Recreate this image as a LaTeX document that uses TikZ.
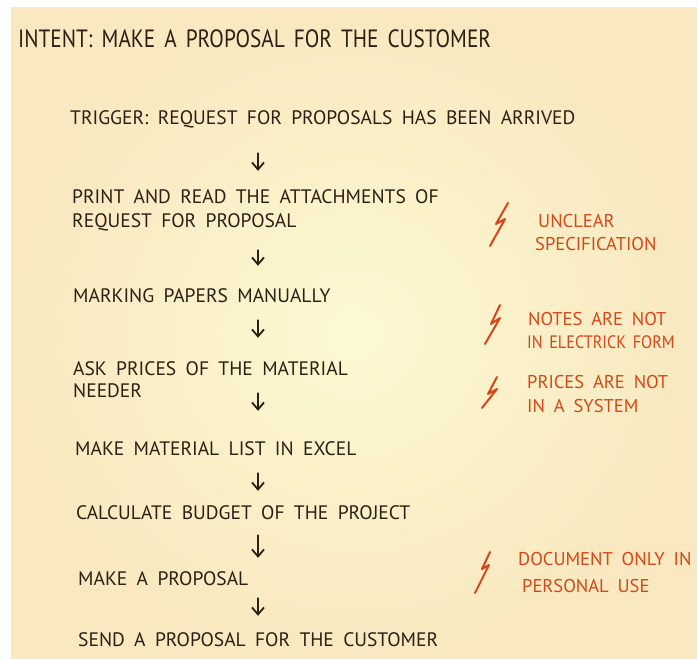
\documentclass[tikz,border=0pt]{standalone}
\usepackage{fontspec}
\setmainfont{PT Sans}[WordSpace=1.8]
\newfontfamily\intentfont{PT Sans}[WordSpace=1.6, FakeStretch=0.85]
\newfontfamily\narrownote{PT Sans}[WordSpace=1.5, FakeStretch=0.9]
\usetikzlibrary{arrows.meta}
\definecolor{ink}{HTML}{2A2014}
\definecolor{redink}{HTML}{D4471A}
\definecolor{paperin}{HTML}{FCF9D2}
\definecolor{paperout}{HTML}{F9E8C0}
\begin{document}
\begin{tikzpicture}[x=1pt,y=-1pt,
  steptext/.style={anchor=base west, text=ink, inner sep=0pt, text height=14pt, text depth=0pt,
    font=\fontsize{19.5}{22}\selectfont},
  notetext/.style={anchor=base west, text=redink, inner sep=0pt,
    font=\fontsize{18.5}{22}\selectfont},
  flow/.style={draw=ink, line width=1.8pt, line cap=round,
    -{Straight Barb[length=7pt,width=12pt,line width=1.8pt]}},
  bolt/.style={draw=redink, line width=2pt, line cap=round, line join=round}]
\useasboundingbox (0,0) rectangle (697,659);
\fill[white] (0,0) rectangle (697,659);
\shade[inner color=paperin, outer color=paperout] (11,7) rectangle (697,659);
\coordinate (ax) at (258,0);

\node[anchor=base west, text=ink, inner sep=0pt, font=\intentfont\fontsize{25}{28}\selectfont] (intent) at (18,47)
  {INTENT: MAKE A PROPOSAL FOR THE CUSTOMER};

\node[steptext] (trig) at (70,124) {TRIGGER: REQUEST FOR PROPOSALS HAS BEEN ARRIVED};
\node[steptext] (print1) at (72,203) {PRINT AND READ THE ATTACHMENTS OF};
\node[steptext] (print2) at (72,227) {REQUEST FOR PROPOSAL};
\node[steptext] (mark) at (73,302) {MARKING PAPERS MANUALLY};
\node[steptext] (ask1) at (73,375) {ASK PRICES OF THE MATERIAL};
\node[steptext] (ask2) at (73,397) {NEEDER};
\node[steptext] (excel) at (75,455) {MAKE MATERIAL LIST IN EXCEL};
\node[steptext] (calc) at (76,519) {CALCULATE BUDGET OF THE PROJECT};
\node[steptext] (prop) at (78,585) {MAKE A PROPOSAL};
\node[steptext] (send) at (78,646) {SEND A PROPOSAL FOR THE CUSTOMER};

\draw[flow, shorten <=29pt, shorten >=18pt] (trig.south -| ax) -- (print1.north -| ax);
\draw[flow, shorten <=23pt, shorten >=22pt] (print2.south -| ax) -- (mark.north -| ax);
\draw[flow, shorten <=18pt, shorten >=23pt] (mark.south -| ax) -- (ask1.north -| ax);
\draw[flow, shorten <=-4pt, shorten >=30pt] (ask2.south -| ax) -- (excel.north -| ax);
\draw[flow, shorten <=18pt, shorten >=14pt] (excel.south -| ax) -- (calc.north -| ax);
\draw[flow, shorten <=16pt, shorten >=13pt] (calc.south -| ax) -- (prop.north -| ax);
\draw[flow, shorten <=13pt, shorten >=16pt] (prop.south -| ax) -- (send.north -| ax);

\draw[bolt] (508,203) -- (496,224) -- (505,219) -- (490,246);
\node[notetext] (n1a) at (538,227) {UNCLEAR};
\node[notetext] (n1b) at (535,250) {SPECIFICATION};

\draw[bolt] (500,305) -- (491,324) -- (500,318) -- (485,344);
\node[notetext] (n2a) at (528,325) {NOTES ARE NOT};
\node[notetext, font=\narrownote\fontsize{18}{22}\selectfont] (n2b) at (527,348) {IN ELECTRICK FORM};

\draw[bolt] (497,377) -- (488,394) -- (497,389) -- (482,408);
\node[notetext] (n3a) at (527,388) {PRICES ARE NOT};
\node[notetext] (n3b) at (527,412) {IN A SYSTEM};

\draw[bolt] (490,552) -- (482,569) -- (489,565) -- (475,593);
\node[notetext] (n4a) at (518,565) {DOCUMENT ONLY IN};
\node[notetext] (n4b) at (522,592) {PERSONAL USE};
\end{tikzpicture}
\end{document}
